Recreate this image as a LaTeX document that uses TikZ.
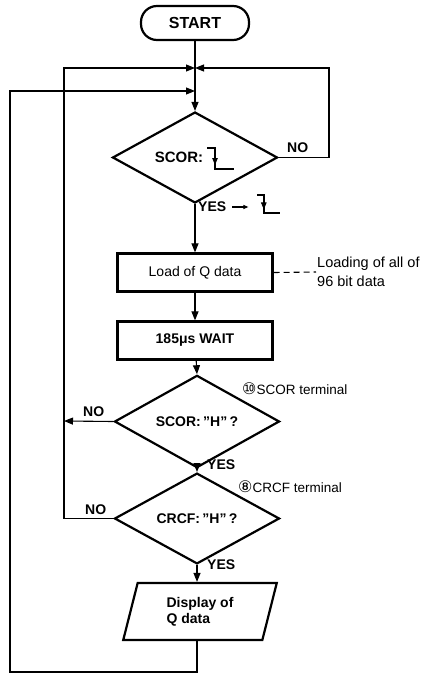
\documentclass[tikz,border=0pt]{standalone}
\usepackage{fontspec}
\setmainfont{Liberation Sans}
\newfontfamily\circfont{DejaVu Sans}
\usetikzlibrary{shapes.geometric,arrows.meta}

\begin{document}
\begin{tikzpicture}[x=1pt, y=-1pt,
    box/.style={draw, line width=2.2pt, minimum width=155pt, minimum height=38pt, inner sep=0pt},
    test/.style={draw, diamond, line width=2.2pt, minimum width=165pt, minimum height=68pt, inner sep=0pt},
    flow/.style={line width=1.1pt},
    tip/.style={-{Triangle[length=9pt,width=7pt]}},
    lbl/.style={inner sep=0pt, font=\fontsize{14}{16}\selectfont\bfseries},
    note/.style={inner sep=1pt, align=left, font=\fontsize{14.5}{19}\selectfont},
    falledge/.pic={
      \draw[line width=1.4pt] (0,0) -- (8,0) -- (8,21) -- (27,21);
      \draw[line width=1pt, -{Triangle[length=7pt,width=5.5pt]}] (8,3) -- (8,17);
    }]
  \useasboundingbox (0,0) rectangle (431,674);

  \node[draw, rounded corners=16pt, line width=2.2pt, minimum width=108pt, minimum height=34pt,
        font=\fontsize{16}{18}\selectfont\bfseries] (start) at (195,23) {START};
  \coordinate (j1) at (195,68);
  \coordinate (j2) at (195,91);
  \coordinate (rloop) at (329,68);
  \coordinate (lin) at (64,68);
  \coordinate (lno) at (64,421);
  \coordinate (bot) at (10,672);

  \node[test, font=\fontsize{15}{17}\selectfont\bfseries] (scor1) at (195,157.5) {SCOR:\hspace*{32pt}};
  \pic at (207,148) {falledge};
  \node[box, font=\fontsize{14}{16}\selectfont] (load) at (195,272.5) {Load of Q data};
  \node[note, anchor=west] (loadnote) at (316,272) {Loading of all of\\96 bit data};
  \node[box, font=\fontsize{14}{16}\selectfont\bfseries] (wait) at (195,340.5) {185μs WAIT};
  \node[test, font=\fontsize{14}{16}\selectfont\bfseries] (scor2) at (197,421.5) {SCOR:\,\symbol{34}H\symbol{34}\,?};
  \node[test, font=\fontsize{14}{16}\selectfont\bfseries] (crcf) at (197,518.5) {CRCF:\,\symbol{34}H\symbol{34}\,?};
  \node[draw, trapezium, trapezium left angle=75, trapezium right angle=105, trapezium stretches=true,
        line width=2.2pt, minimum width=154pt, minimum height=57pt, inner sep=0pt, align=left,
        font=\fontsize{14}{16}\selectfont\bfseries] (disp) at (200,611.5) {Display of\\Q data};

  % labels
  \node[lbl, anchor=west] (no1) at (287,148) {NO};
  \node[lbl, anchor=west] (yes1) at (198,207) {YES};
  \draw[flow, -{Triangle[length=5pt,width=4pt]}] ([xshift=6pt]yes1.east) -- ++(16,0);
  \pic[scale=0.85] at (257,195) {falledge};
  \node[lbl, anchor=west] (no2) at (83,412) {NO};
  \node[lbl, anchor=west] (yes2) at (207,465) {YES};
  \node[lbl, anchor=west] (no3) at (85,510) {NO};
  \node[lbl, anchor=west] (yes3) at (207,565) {YES};
  \node[note, anchor=west, font=\fontsize{13.5}{15}\selectfont] (term10) at (241,389) {{\circfont\fontsize{16}{16}\selectfont ⑩}SCOR terminal};
  \node[note, anchor=west, font=\fontsize{13.5}{15}\selectfont] (term8) at (237,487) {{\circfont\fontsize{16}{16}\selectfont ⑧}CRCF terminal};

  % connectors
  \draw[flow] (start) -- (j1) -- (j2);
  \draw[flow, tip] (j2) -- (scor1.north);
  \draw[flow, tip] (scor1.east) -| (rloop) -- (j1);
  \draw[flow, tip] (scor1.south) -- (load.north);
  \draw[flow, dashed, dash pattern=on 6pt off 4pt] (load.east) -- (loadnote.west);
  \draw[flow, tip] (load) -- (wait);
  \draw[flow, tip] (wait) -- (scor2.north);
  \draw[flow, tip] (scor2.west) -- (lno);
  \draw[flow, tip] (scor2.south) -- (crcf.north);
  \draw[flow, tip] (crcf.west) -| (lin) -- (j1);
  \draw[flow, tip] (crcf.south) -- (crcf.south |- disp.north);
  \draw[flow, tip] (disp.south -| crcf.south) |- (bot) |- (j2);
\end{tikzpicture}
\end{document}
